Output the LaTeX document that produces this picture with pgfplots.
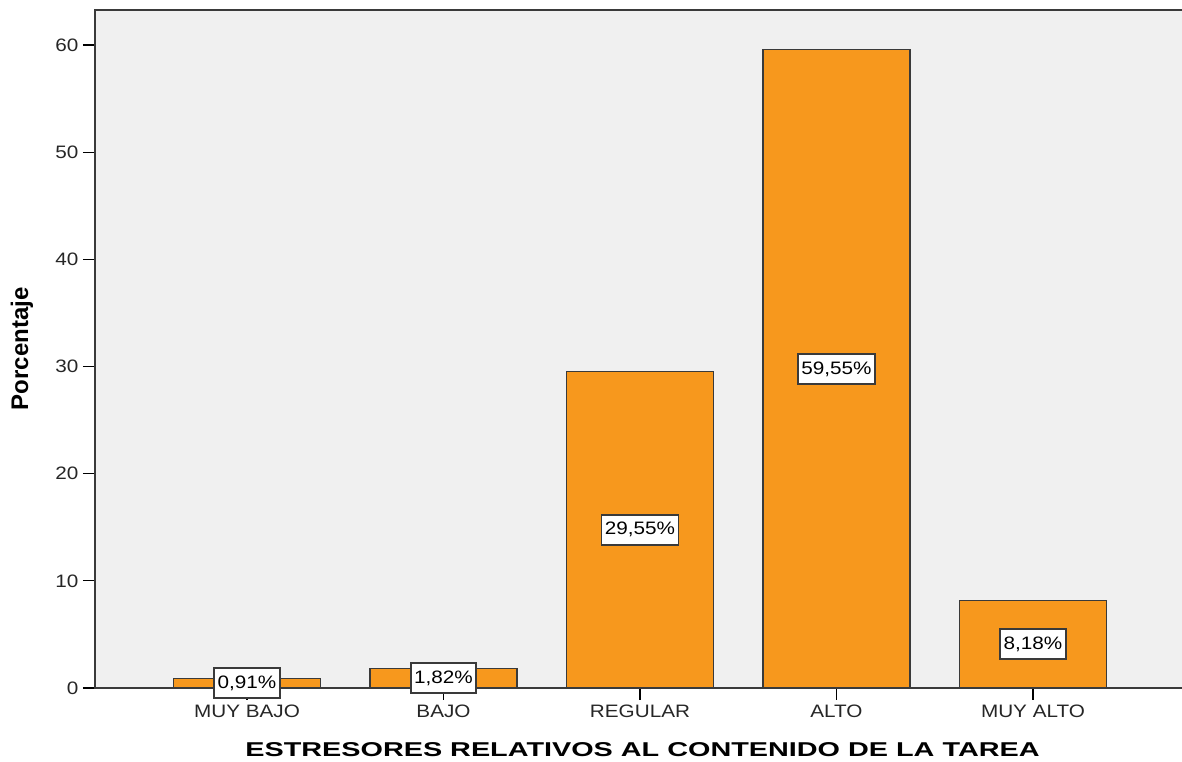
\documentclass[border=0pt]{standalone}
\usepackage{fontspec}
\setmainfont{Liberation Sans}
\newfontfamily\tickfont[FakeStretch=1.15]{Liberation Sans}
\newfontfamily\xlabfont[FakeStretch=1.44]{Liberation Sans}
\usepackage{pgfplots}
\usepackage{pgfplotstable}
\pgfplotsset{compat=1.18}
\definecolor{bg}{HTML}{F0F0F0}
\definecolor{barc}{HTML}{F7981D}
\definecolor{edge}{HTML}{3A3A3A}
\pgfplotstableread{
x y lab
0 0.91 0,91\%
1 1.82 1,82\%
2 29.55 29,55\%
3 59.55 59,55\%
4 8.18 8,18\%
}\data
\begin{document}
\begin{tikzpicture}[x=1pt,y=1pt]
\path[use as bounding box] (0,0) rectangle (886.5,571.5);
\begin{axis}[
  at={(71.25pt,55.5pt)}, anchor=south west,
  scale only axis, width=821.25pt, height=508.5pt,
  xmin=-0.7735, xmax=4.799, ymin=0, ymax=63.26,
  axis background/.style={fill=bg},
  axis line style={draw=edge, line width=1.3pt},
  tick align=outside, xtick pos=bottom, ytick pos=left,
  major tick length=9pt,
  tick style={draw=black, line width=0.9pt},
  xtick={0,1,2,3,4},
  xticklabels={MUY BAJO,BAJO,REGULAR,ALTO,MUY ALTO},
  ytick={0,10,20,30,40,50,60},
  /pgf/number format/assume math mode=true,
  ticklabel style={font=\tickfont\fontsize{13.5pt}{16pt}\selectfont, text=black!85},
  xlabel={\xlabfont\bfseries\fontsize{15pt}{18pt}\selectfont ESTRESORES RELATIVOS AL CONTENIDO DE LA TAREA},
  ylabel={\bfseries\fontsize{18pt}{21pt}\selectfont Porcentaje},
  every axis x label/.style={at={(axis description cs:0.5,-0.0907)}, anchor=center},
  every axis y label/.style={at={(axis description cs:-0.0667,0.5)}, anchor=center, rotate=90},
]
\addplot[ybar, bar width=0.748, fill=barc, draw=edge, line width=0.9pt] table[x=x, y=y] {\data};
\addplot[draw=none, nodes near coords, point meta=explicit symbolic,
  nodes near coords align=center,
  every node near coord/.style={fill=white, draw=edge, line width=1.3pt, inner xsep=2.5pt,
    minimum height=22.5pt, anchor=center, text=black,
    font=\tickfont\fontsize{13.5pt}{16pt}\selectfont}]
  table[x=x, y expr=\thisrow{y}/2, meta=lab] {\data};
\end{axis}
\end{tikzpicture}
\end{document}
